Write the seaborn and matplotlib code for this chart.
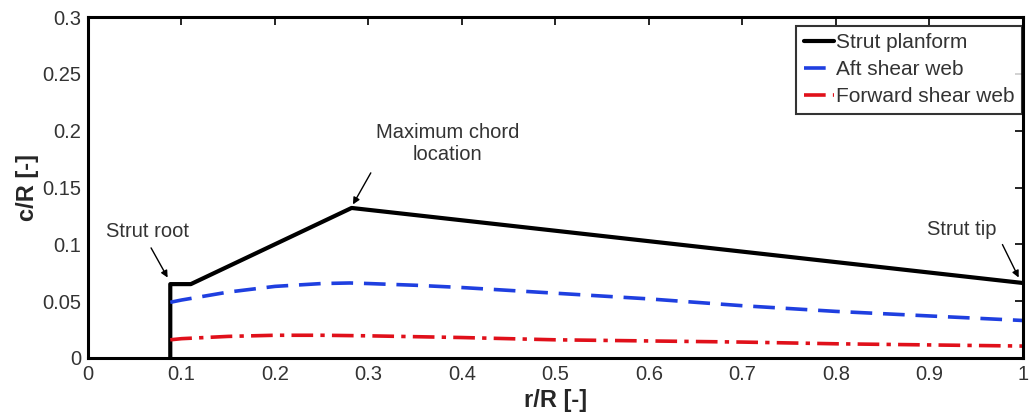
import numpy as np
import pandas as pd
import matplotlib
matplotlib.use("Agg")
import matplotlib.pyplot as plt
import seaborn as sns

# ---- data ----
planform_x = [0.088, 0.088, 0.11, 0.282, 1.0]
planform_y = [0.0, 0.065, 0.065, 0.132, 0.066]

aft_x = [0.088, 0.10, 0.15, 0.20, 0.25, 0.28, 0.30, 0.35, 0.40, 0.50, 0.60, 0.70, 0.80, 0.90, 1.0]
aft_y = [0.049, 0.051, 0.058, 0.063, 0.0655, 0.066, 0.0655, 0.064, 0.062, 0.057, 0.052, 0.046, 0.041, 0.037, 0.033]

fwd_x = [0.088, 0.10, 0.15, 0.20, 0.25, 0.30, 0.40, 0.50, 0.60, 0.70, 0.80, 0.90, 1.0]
fwd_y = [0.016, 0.017, 0.019, 0.020, 0.020, 0.0195, 0.018, 0.016, 0.015, 0.014, 0.0125, 0.0115, 0.0105]

series_names = ["Strut planform", "Aft shear web", "Forward shear web"]
x_ticks = [0, 0.1, 0.2, 0.3, 0.4, 0.5, 0.6, 0.7, 0.8, 0.9, 1.0]
x_ticklabels = ["0", "0.1", "0.2", "0.3", "0.4", "0.5", "0.6", "0.7", "0.8", "0.9", "1"]
y_ticks = [0, 0.05, 0.1, 0.15, 0.2, 0.25, 0.3]
y_ticklabels = ["0", "0.05", "0.1", "0.15", "0.2", "0.25", "0.3"]

sns.set_theme(style="white")
plt.rcParams["font.family"] = ["Liberation Sans", "DejaVu Sans"]

fig = plt.figure(figsize=(10.32, 4.19), dpi=100)
ax = fig.add_axes([0.0853, 0.1456, 0.9057, 0.8138])

df_p = pd.DataFrame({"x": planform_x, "y": planform_y})
df_a = pd.DataFrame({"x": aft_x, "y": aft_y})
df_f = pd.DataFrame({"x": fwd_x, "y": fwd_y})

sns.lineplot(data=df_p, x="x", y="y", ax=ax, color="black", lw=3.0,
             estimator=None, sort=False, label=series_names[0])
sns.lineplot(data=df_a, x="x", y="y", ax=ax, color="#1f3fe0", lw=2.6,
             estimator=None, sort=False, label=series_names[1])
sns.lineplot(data=df_f, x="x", y="y", ax=ax, color="#e0101a", lw=2.6,
             estimator=None, sort=False, label=series_names[2])
lines = ax.get_lines()
lines[1].set_dashes([6, 3])
lines[2].set_dashes([6, 2, 1.2, 2])

ax.set_xlim(0, 1)
ax.set_ylim(0, 0.3)
ax.set_xticks(x_ticks)
ax.set_xticklabels(x_ticklabels)
ax.set_yticks(y_ticks)
ax.set_yticklabels(y_ticklabels)
ax.tick_params(direction="in", length=6, width=1.2, top=True, right=True,
               labelsize=14.5, colors="black", pad=5)
for lab in ax.get_xticklabels() + ax.get_yticklabels():
    lab.set_color("#333333")
for sp in ax.spines.values():
    sp.set_color("black")
    sp.set_linewidth(2.2)
    sp.set_visible(True)

ax.set_xlabel("r/R [-]", fontsize=17, fontweight="bold", labelpad=4)
ax.set_ylabel("c/R [-]", fontsize=17, fontweight="bold", labelpad=2)

ap = dict(arrowstyle="-|>", color="black", lw=1.0, mutation_scale=10)
ann_kw = dict(ha="center", va="center", fontsize=14.5, color="#333333")
ax.annotate("Strut root", xy=(0.064, 0.111), **ann_kw)
ax.annotate("", xy=(0.0866, 0.0686), xytext=(0.066, 0.099), arrowprops=ap)
ax.annotate("Maximum chord\nlocation", xy=(0.385, 0.189), **ann_kw)
ax.annotate("", xy=(0.282, 0.133), xytext=(0.304, 0.165), arrowprops=ap)
ax.annotate("Strut tip", xy=(0.935, 0.113), **ann_kw)
ax.annotate("", xy=(0.997, 0.0686), xytext=(0.977, 0.102), arrowprops=ap)

leg = ax.legend(loc="upper right", bbox_to_anchor=(0.999, 0.975), fontsize=15,
                frameon=True, fancybox=False, handlelength=1.45,
                handletextpad=0.1, borderpad=0.35, labelspacing=0.4,
                borderaxespad=0.0)
leg.get_frame().set_edgecolor("black")
leg.get_frame().set_linewidth(1.5)
for t in leg.get_texts():
    t.set_color("#333333")

fig.savefig("out.png", dpi=100)
